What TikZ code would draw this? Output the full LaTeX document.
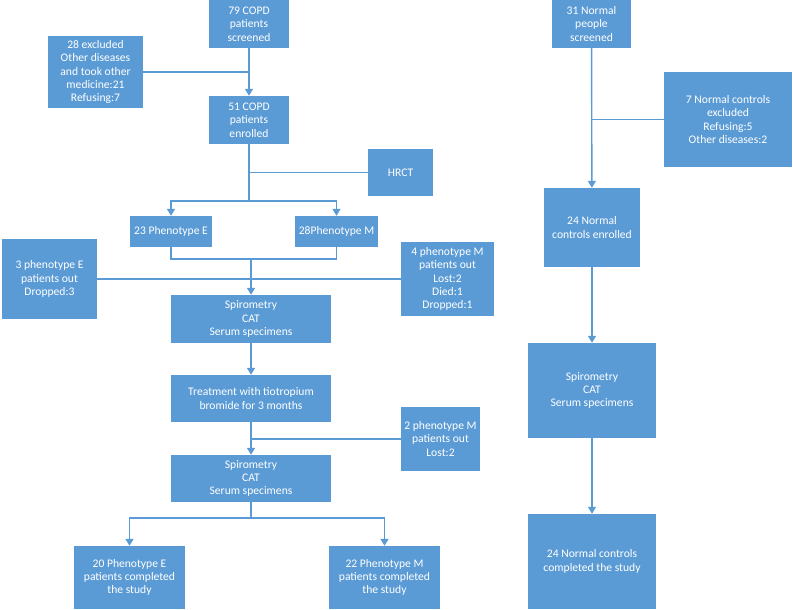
\documentclass[tikz,border=0pt]{standalone}
\usepackage{fontspec}
\setmainfont{Carlito}
\usetikzlibrary{arrows.meta}
\definecolor{boxblue}{HTML}{5B9BD5}
\tikzset{
  box/.style={fill=boxblue, draw=none, text=white, align=center, inner sep=0pt,
    font=\fontsize{11.6}{13.3}\selectfont},
  conn/.style={draw=boxblue, line width=1.4pt},
  arr/.style={conn, -{Triangle[width=8pt,length=7pt]}}
}
\begin{document}
\begin{tikzpicture}[x=1pt,y=-1pt]
\useasboundingbox (0,0) rectangle (793,610);
% left column
\node[box, minimum width=80, minimum height=48] (s79) at (249,24) {79 COPD\\patients\\screened};
\node[box, minimum width=95, minimum height=72] (ex28) at (95.5,72) {28 excluded\\Other diseases\\and took other\\medicine:21\\Refusing:7};
\node[box, minimum width=80, minimum height=48] (e51) at (249,120) {51 COPD\\patients\\enrolled};
\node[box, minimum width=65, minimum height=47] (hrct) at (400.5,172.5) {HRCT};
\node[box, minimum width=82, minimum height=31] (pE) at (171,231.5) {23 Phenotype E};
\node[box, minimum width=83, minimum height=31] (pM) at (336.5,231.5) {28Phenotype M};
\node[box, minimum width=95, minimum height=80] (out3) at (49.5,279) {3 phenotype E\\patients out\\Dropped:3};
\node[box, minimum width=93, minimum height=74] (out4) at (447.5,279) {4 phenotype M\\patients out\\Lost:2\\Died:1\\Dropped:1};
\node[box, minimum width=160, minimum height=48] (sp1) at (251,319) {Spirometry\\CAT\\Serum specimens};
\node[box, minimum width=160, minimum height=47] (treat) at (251,398.5) {Treatment with tiotropium\\bromide for 3 months};
\node[box, minimum width=79, minimum height=64] (out2) at (440.5,439) {2 phenotype M\\patients out\\Lost:2};
\node[box, minimum width=160, minimum height=47] (sp2) at (251,478.5) {Spirometry\\CAT\\Serum specimens};
\node[box, minimum width=111, minimum height=63] (c20) at (129.5,577.5) {20 Phenotype E\\patients completed\\the study};
\node[box, minimum width=111, minimum height=63] (c22) at (384.5,577.5) {22 Phenotype M\\patients completed\\the study};
% right column
\node[box, minimum width=79, minimum height=48] (n31) at (591.5,24) {31 Normal\\people\\screened};
\node[box, minimum width=128, minimum height=95] (ex7) at (728,119.5) {7 Normal controls\\excluded\\Refusing:5\\Other diseases:2};
\node[box, minimum width=96, minimum height=79] (n24) at (592,227.5) {24 Normal\\controls enrolled};
\node[box, minimum width=128, minimum height=95] (spR) at (592,390.5) {Spirometry\\CAT\\Serum specimens};
\node[box, minimum width=128, minimum height=95] (cR) at (592,561.5) {24 Normal controls\\completed the study};
% coordinates
\coordinate (b1) at (249,201);
\coordinate (m1) at (251,259);
\coordinate (j2) at (251,439);
\coordinate (b2) at (251,518);
% left connectors
\draw[arr] (s79) -- (e51);
\draw[conn] (ex28.east) -- (ex28.east -| s79.south);
\draw[conn] (e51) -- (b1);
\draw[conn] (hrct.west -| e51.south) -- (hrct.west);
\draw[arr] (b1) -| (pE);
\draw[arr] (b1) -| (pM);
\draw[conn] (pE.south) -- (pE.south |- m1) -- (pM.south |- m1) -- (pM.south);
\draw[arr] (m1) -- (sp1);
\draw[conn] (out3.east) -- (out3.east -| out4.west);
\draw[arr] (sp1) -- (treat);
\draw[arr] (treat) -- (sp2);
\draw[conn] (j2) -- (j2 -| out2.west);
\draw[conn] (sp2) -- (b2);
\draw[arr] (b2) -| (c20);
\draw[arr] (b2) -| (c22);
% right connectors
\draw[arr] (n31) -- (n24);
\draw[conn] (ex7.west) -- (ex7.west -| n31.south);
\draw[arr] (n24) -- (spR);
\draw[arr] (spR) -- (cR);
\end{tikzpicture}
\end{document}
